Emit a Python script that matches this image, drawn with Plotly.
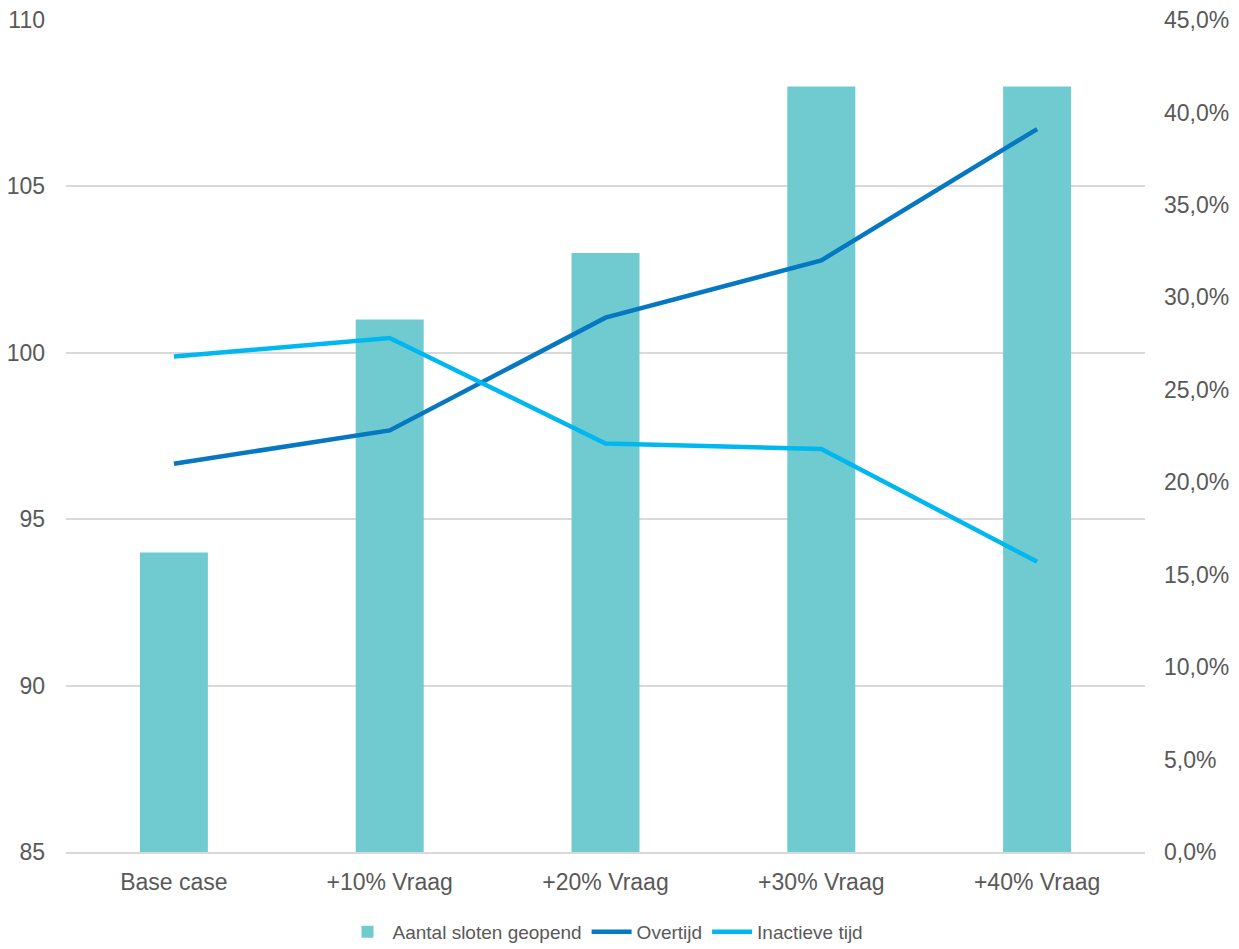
import plotly.graph_objects as go

categories = ["Base case", "+10% Vraag", "+20% Vraag", "+30% Vraag", "+40% Vraag"]
aantal_sloten = [94, 101, 103, 108, 108]
overtijd = [0.210, 0.228, 0.289, 0.320, 0.391]
inactieve_tijd = [0.268, 0.278, 0.221, 0.218, 0.157]

text_color = "#595959"
fig = go.Figure()
fig.add_trace(go.Bar(x=categories, y=aantal_sloten, name="Aantal sloten geopend",
                     marker=dict(color="#70CBD1", line=dict(width=0)), width=0.315))
fig.add_trace(go.Scatter(x=categories, y=overtijd, name="Overtijd", mode="lines",
                         line=dict(color="#0678C2", width=4.5), yaxis="y2"))
fig.add_trace(go.Scatter(x=categories, y=inactieve_tijd, name="Inactieve tijd", mode="lines",
                         line=dict(color="#00B8EF", width=4.5), yaxis="y2"))

fig.update_layout(
    width=1239, height=949,
    margin=dict(l=66, r=94, t=20, b=97, autoexpand=False),
    plot_bgcolor="white", paper_bgcolor="white",
    font=dict(family="Liberation Sans, Arial", size=23, color=text_color),
    separators=",.",
    xaxis=dict(showgrid=False, showline=True, linecolor="#D9D9D9", linewidth=2,
               ticks="", ticklabelstandoff=8, tickfont=dict(size=23, color=text_color)),
    yaxis=dict(range=[85, 110], tickvals=[85, 90, 95, 100, 105, 110],
               showgrid=True, gridcolor="#D9D9D9", gridwidth=2, zeroline=False,
               showline=False, ticks="", ticklabelstandoff=20,
               tickfont=dict(size=23, color=text_color)),
    yaxis2=dict(range=[0, 0.45], tickvals=[0, 0.05, 0.10, 0.15, 0.20, 0.25, 0.30, 0.35, 0.40, 0.45],
                tickformat=".1%", overlaying="y", side="right", showgrid=False,
                zeroline=False, showline=False, ticks="", ticklabelstandoff=18,
                tickfont=dict(size=23, color=text_color)),
    legend=dict(orientation="h", x=0.5, xanchor="center", y=-0.096, yanchor="middle",
                font=dict(size=19, color=text_color), traceorder="normal",
                itemwidth=40),
    showlegend=True,
)
fig.write_html("out.html")
